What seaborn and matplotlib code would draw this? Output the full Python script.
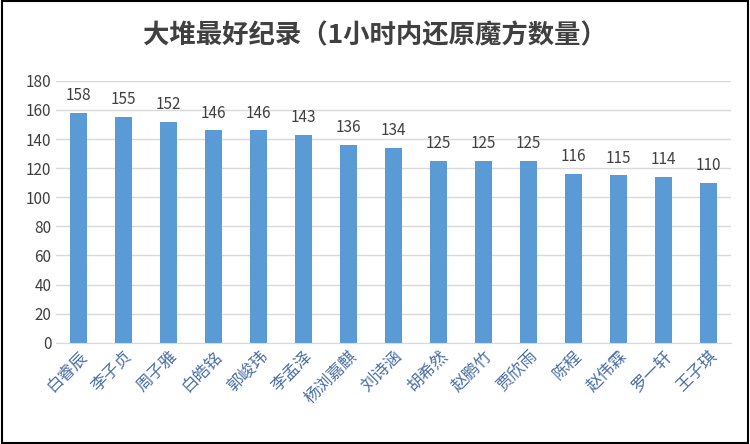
import matplotlib
matplotlib.use("Agg")
import matplotlib.pyplot as plt
import seaborn as sns
import pandas as pd

names = ["白睿辰","李子贞","周子雅","白皓铭","郭峻玮","李孟泽","杨浏嘉麒","刘诗涵","胡希然","赵鹏竹","贾欣雨","陈程","赵伟霖","罗一轩","王子琪"]
values = [158,155,152,146,146,143,136,134,125,125,125,116,115,114,110]
yticks = list(range(0,181,20))

plt.rcParams["font.family"] = "Noto Sans CJK SC"
fig = plt.figure(figsize=(7.5,4.44), dpi=100)
ax = fig.add_axes([0.075, 0.228, 0.9, 0.59])
df = pd.DataFrame({"name":names,"v":values})
sns.barplot(data=df, x="name", y="v", color="#5b9bd5", width=0.38, ax=ax, saturation=1)
ax.set_ylim(0,180); ax.set_yticks(yticks)
ax.set_xlim(-0.5, len(names)-0.5)
ax.yaxis.grid(True, color="#d9d9d9", lw=1); ax.set_axisbelow(True)
for s in ["top","right","left"]: ax.spines[s].set_visible(False)
ax.spines["bottom"].set_color("#d9d9d9")
ax.tick_params(length=0, labelsize=11, colors="#404040")
ax.set_xlabel(""); ax.set_ylabel("")
plt.setp(ax.get_xticklabels(), rotation=45, ha="right", rotation_mode="anchor", color="#4a6fa5", fontsize=12)
for i,v in enumerate(values):
    ax.text(i, v+6, str(v), ha="center", va="bottom", fontsize=11, color="#404040")
fig.text(0.5, 0.92, "大堆最好纪录（1小时内还原魔方数量）", ha="center", va="center", fontsize=19, fontweight="bold", color="#404040")
fig.add_artist(plt.Rectangle((0.002,0.003),0.995,0.994, transform=fig.transFigure, fill=False, ec="black", lw=1.5))
fig.savefig("out.png", dpi=100)
